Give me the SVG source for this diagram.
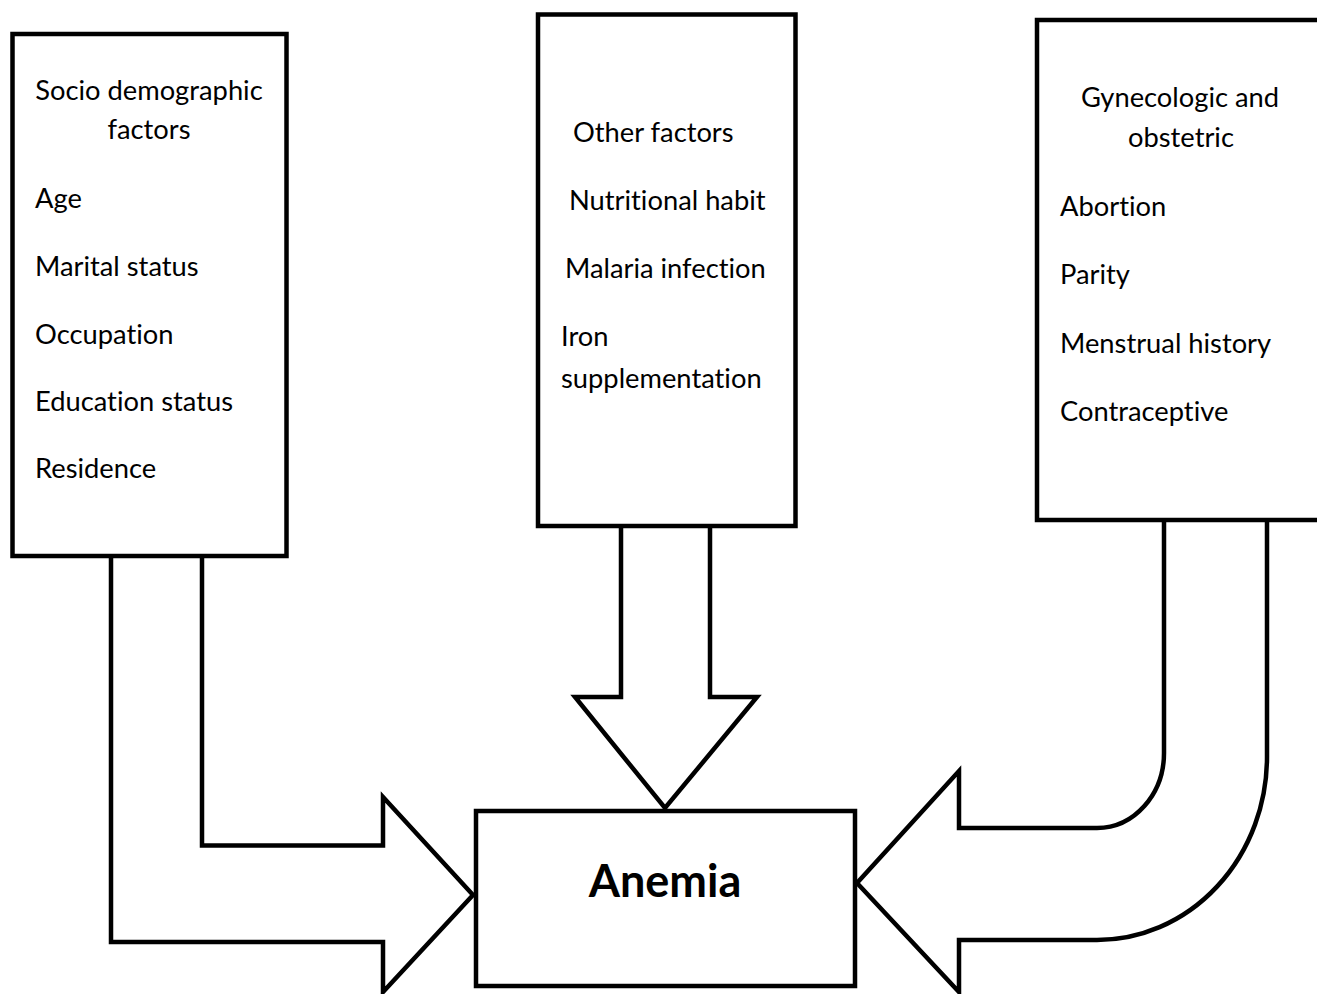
<svg xmlns="http://www.w3.org/2000/svg" width="1317" height="994" viewBox="0 0 1317 994">
<style>
.box{fill:#fff;stroke:#000;stroke-width:4.5}
.arr{fill:#fff;stroke:#000;stroke-width:4.5;stroke-linejoin:miter}
.t{font-family:Lato,"Liberation Sans",sans-serif;font-size:27.3px;fill:#000;font-variant-ligatures:none;font-feature-settings:"liga" 0}
.c{text-anchor:middle}
.b{font-family:Lato,"Liberation Sans",sans-serif;font-size:45px;font-weight:bold;fill:#000;text-anchor:middle}
</style>
<rect width="1317" height="994" fill="#fff"/>
<g id="connectors">
<path class="arr" d="M111,556 L111,942 L383,942 L383,992 L473,895 L383,797 L383,845.5 L202,845.5 L202,556"/>
<path class="arr" d="M621,526 L621,697 L575,697 L665,808 L757,697 L710,697 L710,526"/>
<path class="arr" d="M1164,520 L1164,753 A67,75 0 0 1 1097,828 L959,828 L959,771 L857,883 L959,992 L959,940 L1097,940 A170,183 0 0 0 1267,757 L1267,520"/>
</g>
<g id="socio">
<rect class="box" x="12.5" y="34" width="274" height="522"/>
<text class="t c" x="149" y="100">Socio demographic</text>
<text class="t c" x="149" y="139">factors</text>
<text class="t" x="35" y="208">Age</text>
<text class="t" x="35" y="276">Marital status</text>
<text class="t" x="35" y="344">Occupation</text>
<text class="t" x="35" y="411">Education status</text>
<text class="t" x="35" y="478">Residence</text>
</g>
<g id="other">
<rect class="box" x="538" y="14.5" width="257.5" height="511.5"/>
<text class="t" x="573" y="142">Other factors</text>
<text class="t" x="569" y="210">Nutritional habit</text>
<text class="t" x="565" y="278">Malaria infection</text>
<text class="t" x="561" y="346">Iron</text>
<text class="t" x="561" y="388">supplementation</text>
</g>
<g id="gyneco">
<rect class="box" x="1037" y="20" width="300" height="500"/>
<text class="t c" x="1180" y="107">Gynecologic and</text>
<text class="t c" x="1181" y="147">obstetric</text>
<text class="t" x="1060" y="216">Abortion</text>
<text class="t" x="1060" y="284">Parity</text>
<text class="t" x="1060" y="353">Menstrual history</text>
<text class="t" x="1060" y="421">Contraceptive</text>
</g>
<g id="anemia">
<rect class="box" x="476" y="811" width="379" height="175"/>
<text class="b" x="665" y="897">Anemia</text>
</g>
</svg>
